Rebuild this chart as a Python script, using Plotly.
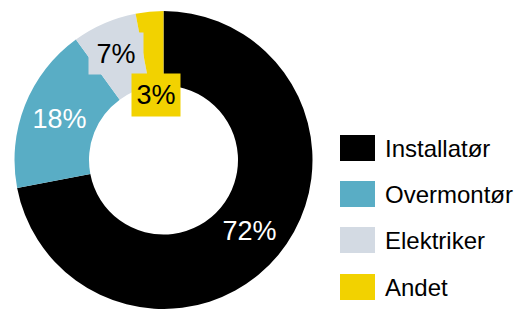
import plotly.graph_objects as go

labels = ["Installatør", "Overmontør", "Elektriker", "Andet"]
values = [72, 18, 7, 3]
colors = ["#000000", "#59ADC5", "#D3DAE3", "#F2D200"]
text_colors = ["#FFFFFF", "#FFFFFF", "#000000", "#000000"]

W, H = 519, 309
FONT = "Arial, Liberation Sans, sans-serif"

# pie labels for big slices drawn by the pie; small slices get boxed annotations
texts = [f"{v}%" for v in values]
pie_texts = [texts[0], texts[1], "", ""]

fig = go.Figure(go.Pie(
    labels=labels, values=values, text=pie_texts, textinfo="text",
    hole=0.5, sort=False, direction="clockwise", rotation=0,
    marker=dict(colors=colors, line=dict(width=0)),
    textposition="inside", insidetextorientation="horizontal",
    textfont=dict(family=FONT, size=27, color=text_colors),
    domain=dict(x=[14.5 / W, 312.5 / W], y=[0, 1 - 11 / H]),
    showlegend=False, hoverinfo="label+percent",
))

annotations = []
shapes = []

# boxed labels for small slices
box_specs = {2: (116, 53.5, 54, 41), 3: (156, 95, 48, 42)}
for i, (cx, cy, bw, bh) in box_specs.items():
    annotations.append(dict(
        x=cx / W, y=1 - cy / H, xref="paper", yref="paper",
        text=texts[i], showarrow=False, bgcolor=colors[i],
        width=bw, height=bh, borderpad=0,
        font=dict(family=FONT, size=27, color=text_colors[i]),
        xanchor="center", yanchor="middle",
    ))

# custom legend
row_centers = [148, 194, 240, 287]
for lab, col, yc in zip(labels, colors, row_centers):
    shapes.append(dict(
        type="rect", xref="paper", yref="paper",
        x0=340 / W, x1=375 / W, y0=1 - (yc + 13) / H, y1=1 - (yc - 13) / H,
        fillcolor=col, line=dict(width=0),
    ))
    annotations.append(dict(
        x=383 / W, y=1 - yc / H, xref="paper", yref="paper",
        text=lab, showarrow=False, xanchor="left", yanchor="middle",
        font=dict(family=FONT, size=24, color="#000000"),
    ))

fig.update_layout(
    width=W, height=H,
    margin=dict(l=0, r=0, t=0, b=0),
    paper_bgcolor="white", plot_bgcolor="white",
    annotations=annotations, shapes=shapes,
)

fig.write_html(
    "out.html",
    config={"displayModeBar": False},
    post_script="document.body.style.margin='0';document.body.style.overflow='hidden';",
)
